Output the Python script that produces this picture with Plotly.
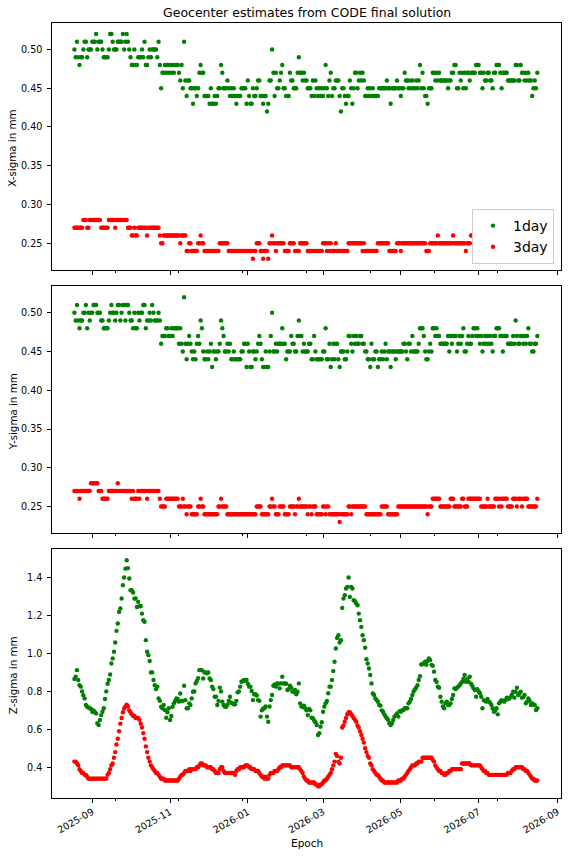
import pandas as pd
import plotly.graph_objects as go
from plotly.subplots import make_subplots

START_DATE = "2025-08-18"

# X-sigma in mm, one value per day
x_1day = [
    0.50, 0.49, 0.51, 0.49, 0.48, 0.49, 0.49, 0.50, 0.51, 0.51,
    0.49, 0.50, 0.50, 0.50, 0.51, 0.51, 0.51, 0.52, 0.50, 0.51,
    0.51, 0.51, 0.50, 0.49, 0.49, 0.49, 0.49, 0.50, 0.52, 0.52,
    0.51, 0.50, 0.50, 0.50, 0.51, 0.51, 0.51, 0.51, 0.52, 0.50,
    0.51, 0.52, 0.51, 0.50, 0.49, 0.48, 0.48, 0.50, 0.48, 0.48,
    0.49, 0.49, 0.49, 0.50, 0.49, 0.51, 0.48, 0.48, 0.49, 0.50,
    0.49, 0.50, 0.50, 0.50, 0.50, 0.49, 0.51, 0.48, 0.45, 0.47,
    0.47, 0.48, 0.47, 0.48, 0.47, 0.48, 0.47, 0.48, 0.47, 0.48,
    0.48, 0.48, 0.47, 0.46, 0.48, 0.45, 0.51, 0.46, 0.44, 0.46,
    0.46, 0.45, 0.45, 0.43, 0.45, 0.45, 0.44, 0.45, 0.47, 0.48,
    0.47, 0.47, 0.44, 0.44, 0.44, 0.44, 0.43, 0.45, 0.43, 0.43,
    0.44, 0.43, 0.44, 0.45, 0.45, 0.48, 0.47, 0.45, 0.45, 0.45,
    0.46, 0.45, 0.44, 0.45, 0.44, 0.45, 0.44, 0.43, 0.44, 0.44,
    0.44, 0.45, 0.45, 0.45, 0.45, 0.43, 0.46, 0.44, 0.43, 0.43,
    0.45, 0.44, 0.44, 0.45, 0.46, 0.46, 0.44, 0.44, 0.43, 0.44,
    0.44, 0.42, 0.43, 0.46, 0.46, 0.50, 0.47, 0.44, 0.47, 0.45,
    0.45, 0.46, 0.47, 0.48, 0.45, 0.45, 0.44, 0.44, 0.44, 0.47,
    0.46, 0.46, 0.45, 0.45, 0.45, 0.47, 0.49, 0.47, 0.47, 0.46,
    0.47, 0.46, 0.46, 0.45, 0.45, 0.45, 0.44, 0.46, 0.44, 0.46,
    0.45, 0.44, 0.45, 0.44, 0.45, 0.44, 0.45, 0.48, 0.45, 0.44,
    0.46, 0.47, 0.44, 0.45, 0.45, 0.46, 0.46, 0.46, 0.44, 0.42,
    0.45, 0.45, 0.44, 0.43, 0.44, 0.44, 0.46, 0.45, 0.43, 0.45,
    0.47, 0.47, 0.45, 0.46, 0.47, 0.46, 0.47, 0.46, 0.44, 0.44,
    0.45, 0.44, 0.45, 0.44, 0.45, 0.44, 0.44, 0.44, 0.44, 0.45,
    0.45, 0.45, 0.45, 0.45, 0.45, 0.46, 0.45, 0.45, 0.43, 0.45,
    0.45, 0.45, 0.45, 0.46, 0.45, 0.45, 0.44, 0.45, 0.45, 0.47,
    0.46, 0.46, 0.45, 0.46, 0.45, 0.46, 0.45, 0.45, 0.46, 0.45,
    0.46, 0.48, 0.45, 0.47, 0.45, 0.44, 0.44, 0.43, 0.45, 0.45,
    0.45, 0.47, 0.47, 0.46, 0.47, 0.46, 0.47, 0.46, 0.46, 0.46,
    0.46, 0.46, 0.46, 0.45, 0.46, 0.46, 0.47, 0.47, 0.48, 0.48,
    0.45, 0.45, 0.47, 0.46, 0.47, 0.45, 0.47, 0.45, 0.47, 0.47,
    0.46, 0.47, 0.47, 0.47, 0.47, 0.48, 0.48, 0.48, 0.47, 0.47,
    0.45, 0.47, 0.46, 0.46, 0.47, 0.47, 0.46, 0.46, 0.45, 0.47,
    0.47, 0.48, 0.48, 0.48, 0.47, 0.45, 0.47, 0.47, 0.47, 0.47,
    0.46, 0.46, 0.46, 0.46, 0.46, 0.46, 0.48, 0.48, 0.46, 0.46,
    0.48, 0.47, 0.47, 0.46, 0.47, 0.46, 0.47, 0.46, 0.46, 0.44,
    0.45, 0.46, 0.45, 0.47,
]

x_3day = [
    0.27, 0.27, 0.27, 0.27, 0.27, 0.27, 0.27, 0.28, 0.28, 0.28,
    0.27, 0.27, 0.28, 0.28, 0.28, 0.28, 0.28, 0.28, 0.28, 0.28,
    0.28, 0.27, 0.27, 0.27, 0.27, 0.27, 0.27, 0.28, 0.28, 0.28,
    0.28, 0.28, 0.27, 0.28, 0.28, 0.28, 0.28, 0.28, 0.28, 0.28,
    0.28, 0.28, 0.27, 0.27, 0.27, 0.26, 0.26, 0.27, 0.26, 0.26,
    0.27, 0.27, 0.27, 0.27, 0.27, 0.27, 0.27, 0.26, 0.27, 0.27,
    0.27, 0.27, 0.27, 0.27, 0.27, 0.27, 0.27, 0.26, 0.25, 0.25,
    0.26, 0.26, 0.26, 0.26, 0.26, 0.26, 0.26, 0.26, 0.26, 0.26,
    0.26, 0.26, 0.26, 0.25, 0.26, 0.26, 0.26, 0.26, 0.24, 0.24,
    0.25, 0.25, 0.24, 0.24, 0.24, 0.24, 0.24, 0.25, 0.25, 0.26,
    0.25, 0.25, 0.24, 0.24, 0.24, 0.24, 0.24, 0.24, 0.24, 0.24,
    0.24, 0.24, 0.24, 0.24, 0.25, 0.25, 0.25, 0.25, 0.25, 0.25,
    0.25, 0.24, 0.24, 0.24, 0.24, 0.24, 0.24, 0.24, 0.24, 0.24,
    0.24, 0.24, 0.24, 0.24, 0.24, 0.24, 0.24, 0.24, 0.24, 0.24,
    0.23, 0.24, 0.24, 0.25, 0.25, 0.25, 0.24, 0.24, 0.23, 0.24,
    0.24, 0.24, 0.23, 0.25, 0.25, 0.26, 0.25, 0.25, 0.24, 0.25,
    0.25, 0.25, 0.25, 0.25, 0.25, 0.24, 0.24, 0.24, 0.24, 0.25,
    0.25, 0.25, 0.25, 0.24, 0.24, 0.24, 0.24, 0.25, 0.25, 0.25,
    0.25, 0.25, 0.25, 0.24, 0.24, 0.24, 0.24, 0.24, 0.24, 0.24,
    0.24, 0.24, 0.24, 0.24, 0.24, 0.25, 0.25, 0.25, 0.24, 0.25,
    0.24, 0.25, 0.24, 0.24, 0.24, 0.25, 0.24, 0.24, 0.24, 0.24,
    0.24, 0.24, 0.24, 0.24, 0.24, 0.25, 0.25, 0.25, 0.25, 0.25,
    0.25, 0.25, 0.25, 0.25, 0.25, 0.25, 0.24, 0.25, 0.24, 0.24,
    0.24, 0.24, 0.24, 0.24, 0.24, 0.24, 0.24, 0.24, 0.25, 0.25,
    0.25, 0.25, 0.25, 0.25, 0.25, 0.25, 0.25, 0.24, 0.24, 0.24,
    0.24, 0.24, 0.24, 0.25, 0.25, 0.25, 0.24, 0.25, 0.25, 0.25,
    0.25, 0.25, 0.25, 0.25, 0.25, 0.25, 0.25, 0.25, 0.25, 0.25,
    0.25, 0.25, 0.25, 0.25, 0.25, 0.25, 0.24, 0.24, 0.24, 0.25,
    0.25, 0.25, 0.25, 0.25, 0.25, 0.26, 0.25, 0.25, 0.25, 0.25,
    0.25, 0.25, 0.25, 0.25, 0.25, 0.25, 0.25, 0.26, 0.25, 0.25,
    0.25, 0.25, 0.25, 0.25, 0.25, 0.25, 0.25, 0.24, 0.25, 0.25,
    0.25, 0.26, 0.26, 0.25, 0.25, 0.25, 0.26, 0.26, 0.25, 0.25,
    0.25, 0.25, 0.25, 0.26, 0.25, 0.25, 0.25, 0.25, 0.25, 0.26,
    0.26, 0.25, 0.25, 0.25, 0.25, 0.26, 0.26, 0.25, 0.25, 0.25,
    0.25, 0.25, 0.26, 0.26, 0.25, 0.25, 0.25, 0.25, 0.26, 0.25,
    0.25, 0.25, 0.26, 0.25, 0.25, 0.25, 0.25, 0.25, 0.25, 0.25,
    0.25, 0.25, 0.25, 0.26,
]

# Y-sigma in mm
y_1day = [
    0.50, 0.49, 0.51, 0.49, 0.48, 0.49, 0.49, 0.50, 0.50, 0.51,
    0.48, 0.50, 0.49, 0.50, 0.50, 0.51, 0.51, 0.51, 0.50, 0.50,
    0.50, 0.49, 0.49, 0.48, 0.48, 0.48, 0.48, 0.49, 0.50, 0.51,
    0.50, 0.50, 0.49, 0.50, 0.51, 0.51, 0.49, 0.50, 0.51, 0.51,
    0.49, 0.51, 0.51, 0.50, 0.49, 0.49, 0.48, 0.50, 0.48, 0.48,
    0.50, 0.49, 0.50, 0.50, 0.51, 0.51, 0.48, 0.49, 0.49, 0.50,
    0.49, 0.51, 0.50, 0.49, 0.49, 0.49, 0.50, 0.49, 0.46, 0.47,
    0.47, 0.47, 0.48, 0.48, 0.47, 0.47, 0.48, 0.47, 0.48, 0.48,
    0.48, 0.48, 0.46, 0.48, 0.46, 0.45, 0.52, 0.46, 0.44, 0.46,
    0.47, 0.46, 0.45, 0.44, 0.45, 0.44, 0.46, 0.47, 0.46, 0.49,
    0.48, 0.45, 0.44, 0.44, 0.45, 0.44, 0.45, 0.46, 0.43, 0.45,
    0.45, 0.44, 0.45, 0.45, 0.46, 0.49, 0.48, 0.47, 0.45, 0.45,
    0.46, 0.45, 0.46, 0.44, 0.44, 0.45, 0.44, 0.44, 0.44, 0.44,
    0.44, 0.45, 0.45, 0.46, 0.46, 0.43, 0.46, 0.45, 0.43, 0.43,
    0.45, 0.45, 0.44, 0.45, 0.46, 0.47, 0.46, 0.44, 0.43, 0.43,
    0.45, 0.43, 0.43, 0.45, 0.47, 0.50, 0.45, 0.45, 0.46, 0.45,
    0.46, 0.46, 0.46, 0.48, 0.46, 0.46, 0.44, 0.45, 0.45, 0.45,
    0.47, 0.46, 0.46, 0.45, 0.45, 0.47, 0.49, 0.47, 0.47, 0.45,
    0.46, 0.45, 0.45, 0.45, 0.46, 0.46, 0.44, 0.44, 0.47, 0.45,
    0.44, 0.44, 0.44, 0.44, 0.44, 0.45, 0.45, 0.48, 0.44, 0.44,
    0.46, 0.43, 0.44, 0.46, 0.44, 0.46, 0.46, 0.44, 0.43, 0.45,
    0.45, 0.45, 0.44, 0.44, 0.45, 0.47, 0.47, 0.46, 0.45, 0.47,
    0.46, 0.47, 0.46, 0.46, 0.47, 0.47, 0.46, 0.46, 0.45, 0.45,
    0.44, 0.44, 0.43, 0.46, 0.44, 0.44, 0.45, 0.45, 0.43, 0.44,
    0.44, 0.45, 0.44, 0.45, 0.46, 0.44, 0.45, 0.45, 0.43, 0.45,
    0.45, 0.45, 0.44, 0.45, 0.45, 0.45, 0.45, 0.45, 0.46, 0.46,
    0.45, 0.44, 0.46, 0.46, 0.45, 0.47, 0.45, 0.45, 0.45, 0.45,
    0.46, 0.48, 0.48, 0.48, 0.47, 0.45, 0.44, 0.44, 0.45, 0.46,
    0.45, 0.48, 0.48, 0.47, 0.48, 0.47, 0.47, 0.46, 0.46, 0.46,
    0.46, 0.46, 0.46, 0.47, 0.45, 0.47, 0.46, 0.47, 0.47, 0.47,
    0.45, 0.46, 0.47, 0.46, 0.47, 0.48, 0.45, 0.45, 0.46, 0.47,
    0.46, 0.46, 0.47, 0.48, 0.48, 0.47, 0.48, 0.47, 0.46, 0.47,
    0.45, 0.46, 0.47, 0.46, 0.47, 0.46, 0.47, 0.46, 0.45, 0.47,
    0.47, 0.48, 0.48, 0.48, 0.47, 0.47, 0.45, 0.47, 0.47, 0.47,
    0.46, 0.46, 0.46, 0.46, 0.47, 0.46, 0.49, 0.47, 0.46, 0.46,
    0.47, 0.47, 0.46, 0.47, 0.46, 0.47, 0.48, 0.46, 0.46, 0.45,
    0.45, 0.46, 0.46, 0.47,
]

y_3day = [
    0.27, 0.27, 0.27, 0.27, 0.26, 0.27, 0.27, 0.27, 0.27, 0.27,
    0.27, 0.27, 0.27, 0.28, 0.28, 0.28, 0.28, 0.28, 0.28, 0.27,
    0.27, 0.27, 0.26, 0.26, 0.26, 0.26, 0.26, 0.27, 0.27, 0.27,
    0.27, 0.27, 0.27, 0.27, 0.28, 0.27, 0.27, 0.27, 0.27, 0.27,
    0.27, 0.27, 0.27, 0.27, 0.27, 0.26, 0.27, 0.26, 0.26, 0.26,
    0.27, 0.26, 0.27, 0.27, 0.27, 0.27, 0.27, 0.26, 0.27, 0.27,
    0.27, 0.27, 0.27, 0.27, 0.27, 0.27, 0.27, 0.26, 0.25, 0.25,
    0.25, 0.25, 0.26, 0.26, 0.26, 0.26, 0.26, 0.26, 0.26, 0.26,
    0.26, 0.26, 0.25, 0.25, 0.25, 0.26, 0.25, 0.25, 0.24, 0.25,
    0.25, 0.25, 0.24, 0.24, 0.24, 0.24, 0.24, 0.25, 0.25, 0.26,
    0.25, 0.25, 0.24, 0.24, 0.24, 0.24, 0.24, 0.24, 0.24, 0.24,
    0.24, 0.24, 0.24, 0.25, 0.25, 0.26, 0.25, 0.25, 0.25, 0.25,
    0.24, 0.24, 0.24, 0.24, 0.24, 0.24, 0.24, 0.24, 0.24, 0.24,
    0.24, 0.24, 0.24, 0.24, 0.24, 0.24, 0.24, 0.24, 0.24, 0.24,
    0.24, 0.24, 0.24, 0.25, 0.25, 0.25, 0.25, 0.24, 0.24, 0.24,
    0.24, 0.24, 0.24, 0.25, 0.25, 0.26, 0.25, 0.25, 0.24, 0.24,
    0.24, 0.25, 0.25, 0.25, 0.25, 0.24, 0.24, 0.24, 0.24, 0.25,
    0.25, 0.25, 0.25, 0.24, 0.25, 0.25, 0.26, 0.25, 0.25, 0.25,
    0.25, 0.25, 0.25, 0.24, 0.25, 0.25, 0.24, 0.25, 0.25, 0.25,
    0.24, 0.24, 0.24, 0.24, 0.24, 0.25, 0.25, 0.24, 0.25, 0.25,
    0.24, 0.24, 0.24, 0.24, 0.24, 0.24, 0.24, 0.24, 0.23, 0.24,
    0.24, 0.24, 0.24, 0.24, 0.24, 0.25, 0.25, 0.24, 0.25, 0.25,
    0.25, 0.25, 0.25, 0.25, 0.25, 0.25, 0.25, 0.25, 0.25, 0.24,
    0.24, 0.24, 0.24, 0.24, 0.24, 0.24, 0.24, 0.24, 0.24, 0.24,
    0.24, 0.25, 0.25, 0.25, 0.25, 0.25, 0.24, 0.24, 0.24, 0.24,
    0.24, 0.24, 0.24, 0.24, 0.25, 0.25, 0.25, 0.25, 0.25, 0.25,
    0.25, 0.25, 0.25, 0.25, 0.25, 0.25, 0.25, 0.25, 0.25, 0.25,
    0.25, 0.25, 0.25, 0.25, 0.25, 0.25, 0.25, 0.24, 0.25, 0.25,
    0.25, 0.26, 0.26, 0.26, 0.26, 0.26, 0.26, 0.25, 0.25, 0.25,
    0.25, 0.25, 0.25, 0.25, 0.25, 0.26, 0.26, 0.26, 0.25, 0.25,
    0.25, 0.25, 0.25, 0.25, 0.26, 0.26, 0.25, 0.25, 0.25, 0.26,
    0.26, 0.26, 0.26, 0.26, 0.26, 0.26, 0.26, 0.26, 0.26, 0.25,
    0.25, 0.25, 0.25, 0.25, 0.26, 0.25, 0.25, 0.25, 0.25, 0.25,
    0.26, 0.26, 0.26, 0.25, 0.26, 0.25, 0.26, 0.26, 0.26, 0.26,
    0.25, 0.25, 0.25, 0.25, 0.26, 0.26, 0.26, 0.25, 0.26, 0.26,
    0.26, 0.25, 0.26, 0.26, 0.26, 0.26, 0.25, 0.25, 0.25, 0.25,
    0.25, 0.25, 0.25, 0.26,
]

# Z-sigma in mm
z_1day = [
    0.865, 0.877, 0.912, 0.860, 0.833, 0.825, 0.800, 0.780, 0.763, 0.728,
    0.719, 0.715, 0.711, 0.707, 0.693, 0.700, 0.690, 0.684, 0.632, 0.623,
    0.649, 0.675, 0.693, 0.711, 0.760, 0.800, 0.840, 0.860, 0.889, 0.947,
    0.974, 1.009, 1.058, 1.119, 1.158, 1.219, 1.237, 1.290, 1.360, 1.400,
    1.447, 1.491, 1.450, 1.395, 1.333, 1.333, 1.321, 1.289, 1.290, 1.245,
    1.272, 1.249, 1.250, 1.210, 1.175, 1.167, 1.070, 1.009, 0.991, 0.960,
    0.900, 0.900, 0.860, 0.833, 0.812, 0.825, 0.763, 0.750, 0.719, 0.711,
    0.728, 0.702, 0.661, 0.690, 0.711, 0.649, 0.670, 0.719, 0.737, 0.750,
    0.763, 0.760, 0.746, 0.789, 0.750, 0.750, 0.830, 0.754, 0.711, 0.711,
    0.737, 0.728, 0.763, 0.798, 0.800, 0.842, 0.855, 0.870, 0.912, 0.912,
    0.912, 0.868, 0.900, 0.900, 0.895, 0.900, 0.868, 0.860, 0.825, 0.812,
    0.772, 0.772, 0.728, 0.750, 0.820, 0.800, 0.746, 0.728, 0.719, 0.719,
    0.730, 0.750, 0.772, 0.740, 0.737, 0.732, 0.732, 0.750, 0.795, 0.800,
    0.825, 0.851, 0.855, 0.860, 0.856, 0.860, 0.840, 0.825, 0.825, 0.802,
    0.754, 0.785, 0.785, 0.778, 0.754, 0.750, 0.667, 0.700, 0.710, 0.711,
    0.720, 0.667, 0.640, 0.720, 0.754, 0.781, 0.830, 0.837, 0.825, 0.842,
    0.840, 0.816, 0.842, 0.877, 0.842, 0.842, 0.840, 0.807, 0.812, 0.830,
    0.820, 0.800, 0.798, 0.807, 0.785, 0.798, 0.842, 0.737, 0.720, 0.719,
    0.725, 0.711, 0.700, 0.675, 0.707, 0.700, 0.661, 0.658, 0.647, 0.637,
    0.623, 0.570, 0.579, 0.614, 0.637, 0.693, 0.720, 0.737, 0.749, 0.790,
    0.825, 0.825, 0.860, 0.907, 0.956, 1.026, 1.082, 1.096, 1.058, 1.070,
    1.240, 1.289, 1.307, 1.342, 1.351, 1.400, 1.298, 1.351, 1.342, 1.281,
    1.275, 1.263, 1.254, 1.210, 1.175, 1.140, 1.096, 1.070, 1.030, 0.970,
    0.947, 0.921, 0.886, 0.842, 0.789, 0.781, 0.763, 0.754, 0.746, 0.728,
    0.725, 0.700, 0.693, 0.679, 0.667, 0.658, 0.650, 0.632, 0.623, 0.632,
    0.649, 0.667, 0.675, 0.684, 0.667, 0.696, 0.693, 0.700, 0.702, 0.711,
    0.711, 0.711, 0.737, 0.745, 0.760, 0.781, 0.800, 0.810, 0.819, 0.833,
    0.860, 0.880, 0.942, 0.944, 0.947, 0.956, 0.940, 0.960, 0.974, 0.965,
    0.940, 0.935, 0.904, 0.860, 0.850, 0.825, 0.819, 0.772, 0.746, 0.720,
    0.711, 0.737, 0.746, 0.728, 0.728, 0.737, 0.760, 0.781, 0.816, 0.812,
    0.820, 0.825, 0.833, 0.842, 0.850, 0.865, 0.886, 0.851, 0.865, 0.851,
    0.877, 0.840, 0.830, 0.816, 0.807, 0.772, 0.812, 0.800, 0.790, 0.772,
    0.711, 0.754, 0.750, 0.746, 0.760, 0.746, 0.740, 0.728, 0.711, 0.693,
    0.700, 0.711, 0.679, 0.737, 0.746, 0.754, 0.750, 0.746, 0.754, 0.767,
    0.760, 0.763, 0.770, 0.781, 0.798, 0.767, 0.798, 0.819, 0.781, 0.789,
    0.798, 0.767, 0.770, 0.781, 0.737, 0.746, 0.763, 0.750, 0.728, 0.737,
    0.730, 0.728, 0.702, 0.711,
]

z_3day = [
    0.43, 0.43, 0.42, 0.41, 0.39, 0.38, 0.37, 0.37, 0.36, 0.36,
    0.35, 0.34, 0.34, 0.34, 0.34, 0.34, 0.34, 0.34, 0.34, 0.34,
    0.34, 0.34, 0.34, 0.34, 0.34, 0.34, 0.36, 0.37, 0.39, 0.41,
    0.42, 0.45, 0.48, 0.52, 0.55, 0.59, 0.63, 0.66, 0.69, 0.71,
    0.72, 0.73, 0.72, 0.70, 0.69, 0.68, 0.67, 0.67, 0.66, 0.66,
    0.66, 0.65, 0.63, 0.61, 0.58, 0.55, 0.51, 0.48, 0.45, 0.43,
    0.41, 0.40, 0.39, 0.38, 0.37, 0.37, 0.36, 0.35, 0.34, 0.34,
    0.34, 0.33, 0.33, 0.33, 0.33, 0.33, 0.33, 0.33, 0.33, 0.33,
    0.33, 0.33, 0.34, 0.35, 0.36, 0.36, 0.37, 0.38, 0.38, 0.38,
    0.39, 0.38, 0.39, 0.39, 0.39, 0.39, 0.40, 0.40, 0.41, 0.42,
    0.42, 0.41, 0.41, 0.41, 0.40, 0.40, 0.40, 0.40, 0.39, 0.39,
    0.38, 0.37, 0.37, 0.37, 0.39, 0.40, 0.40, 0.38, 0.37, 0.37,
    0.37, 0.37, 0.37, 0.37, 0.37, 0.37, 0.36, 0.38, 0.39, 0.39,
    0.40, 0.40, 0.40, 0.40, 0.41, 0.41, 0.41, 0.40, 0.40, 0.39,
    0.39, 0.39, 0.38, 0.38, 0.38, 0.37, 0.36, 0.35, 0.35, 0.34,
    0.35, 0.34, 0.34, 0.36, 0.37, 0.37, 0.37, 0.38, 0.38, 0.38,
    0.39, 0.40, 0.40, 0.41, 0.41, 0.41, 0.41, 0.41, 0.41, 0.41,
    0.40, 0.40, 0.40, 0.40, 0.40, 0.40, 0.40, 0.39, 0.38, 0.37,
    0.35, 0.34, 0.33, 0.33, 0.32, 0.32, 0.32, 0.32, 0.32, 0.31,
    0.31, 0.30, 0.30, 0.31, 0.31, 0.32, 0.33, 0.33, 0.34, 0.35,
    0.36, 0.37, 0.39, 0.41, 0.43, 0.47, 0.46, 0.43, 0.42, 0.45,
    0.61, 0.62, 0.64, 0.66, 0.68, 0.69, 0.69, 0.68, 0.67, 0.66,
    0.65, 0.64, 0.62, 0.61, 0.59, 0.57, 0.55, 0.53, 0.50, 0.48,
    0.46, 0.45, 0.42, 0.41, 0.39, 0.38, 0.37, 0.36, 0.36, 0.35,
    0.34, 0.33, 0.33, 0.32, 0.32, 0.32, 0.32, 0.32, 0.32, 0.32,
    0.32, 0.32, 0.32, 0.32, 0.33, 0.33, 0.33, 0.34, 0.34, 0.35,
    0.36, 0.37, 0.38, 0.39, 0.40, 0.41, 0.41, 0.41, 0.42, 0.42,
    0.43, 0.43, 0.43, 0.45, 0.45, 0.45, 0.45, 0.45, 0.45, 0.45,
    0.45, 0.44, 0.43, 0.41, 0.40, 0.39, 0.38, 0.38, 0.37, 0.37,
    0.36, 0.36, 0.37, 0.37, 0.38, 0.38, 0.39, 0.39, 0.39, 0.39,
    0.39, 0.39, 0.39, 0.39, 0.42, 0.42, 0.42, 0.42, 0.42, 0.42,
    0.42, 0.41, 0.41, 0.41, 0.41, 0.41, 0.41, 0.41, 0.41, 0.40,
    0.39, 0.38, 0.38, 0.37, 0.37, 0.36, 0.36, 0.36, 0.36, 0.36,
    0.36, 0.36, 0.36, 0.36, 0.36, 0.36, 0.36, 0.36, 0.36, 0.36,
    0.37, 0.37, 0.37, 0.38, 0.39, 0.39, 0.40, 0.40, 0.40, 0.40,
    0.40, 0.40, 0.39, 0.39, 0.38, 0.38, 0.37, 0.36, 0.35, 0.34,
    0.34, 0.33, 0.33, 0.33,
]

panels = [
    ("X-sigma in mm", x_1day, x_3day),
    ("Y-sigma in mm", y_1day, y_3day),
    ("Z-sigma in mm", z_1day, z_3day),
]

W, H = 569, 857
X_LEFT, X_RIGHT = 52, 561
PANEL_PX = [(22.7, 270.0), (286.0, 533.3), (549.3, 798.0)]
Y_RANGES = [[0.2155, 0.5345], [0.2155, 0.5345], [0.238, 1.549]]
Y_TICKS = [(0.25, 0.05, ".2f"), (0.25, 0.05, ".2f"), (0.4, 0.2, ".1f")]
FONT = "DejaVu Sans, Verdana, sans-serif"
TICK_FONT = 9.6


def days(values):
    return pd.date_range(START_DATE, periods=len(values), freq="D")


fig = make_subplots(rows=3, cols=1, shared_xaxes=True)

for i, (label, one, three) in enumerate(panels):
    row = i + 1
    fig.add_trace(go.Scatter(x=days(one), y=one, mode="markers", name="1day",
                             marker=dict(color="#008000", size=4.4),
                             showlegend=(row == 1)), row=row, col=1)
    fig.add_trace(go.Scatter(x=days(three), y=three, mode="markers", name="3day",
                             marker=dict(color="#ff0000", size=4.4),
                             showlegend=(row == 1)), row=row, col=1)

axis_common = dict(showline=True, mirror=True, linecolor="black", linewidth=1,
                   ticks="outside", ticklen=3.7, tickwidth=0.9, tickcolor="black",
                   showgrid=False, zeroline=False)

for i in range(3):
    top, bottom = PANEL_PX[i]
    t0, dt, fmt = Y_TICKS[i]
    fig.update_yaxes(axis_common, row=i + 1, col=1,
                     domain=[1 - bottom / H, 1 - top / H], range=Y_RANGES[i],
                     tick0=t0, dtick=dt, tickformat=fmt,
                     tickfont=dict(size=TICK_FONT), ticklabelstandoff=3)
    fig.update_xaxes(axis_common, row=i + 1, col=1,
                     domain=[X_LEFT / W, X_RIGHT / W], type="date",
                     range=["2025-07-31 10:00", "2026-09-03 14:00"],
                     tick0="2025-01-01", dtick="M2", tickformat="%Y-%m",
                     tickangle=-30, tickfont=dict(size=TICK_FONT),
                     showticklabels=(i == 2),
                     minor=dict(ticks="outside", ticklen=2.1, tickwidth=0.7,
                                tickcolor="black", tick0="1970-01-01",
                                dtick=50 * 86400000, showgrid=False))

annotations = [
    dict(text="Geocenter estimates from CODE final solution", x=(X_LEFT + X_RIGHT) / 2 / W,
         y=1 - 12 / H, font=dict(size=12.5)),
    dict(text="Epoch", x=(X_LEFT + X_RIGHT) / 2 / W, y=1 - 843 / H, font=dict(size=10.5)),
]
for (label, _, _), (top, bottom) in zip(panels, PANEL_PX):
    annotations.append(dict(text=label, x=12.5 / W, y=1 - ((top + bottom) / 2 + 2) / H,
                            textangle=-90, font=dict(size=10.3)))
for a in annotations:
    a.update(xref="paper", yref="paper", showarrow=False, xanchor="center", yanchor="middle")

fig.update_layout(
    width=W, height=H,
    margin=dict(l=0, r=0, t=0, b=0),
    plot_bgcolor="white", paper_bgcolor="white",
    font=dict(family=FONT, size=10.5, color="black"),
    annotations=annotations,
    legend=dict(x=554 / W, y=1 - 264 / H, xanchor="right", yanchor="bottom",
                bgcolor="white", bordercolor="#cccccc", borderwidth=1,
                font=dict(size=14), itemsizing="trace", tracegroupgap=0),
)

# the page body has a default 8px margin; drop it so the figure sits at 0,0
fig.write_html("out.html", config={"displayModeBar": False},
               post_script="document.body.style.margin='0';")
